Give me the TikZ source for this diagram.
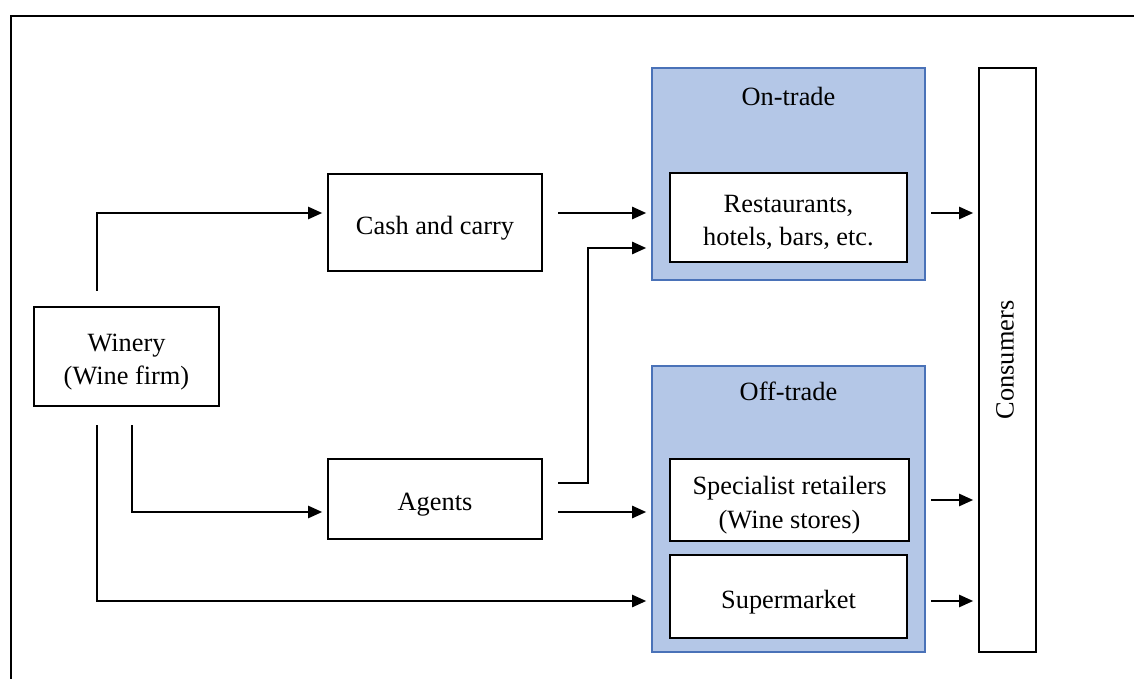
\documentclass[tikz,border=0pt]{standalone}
\usepackage{fontspec}
\setmainfont{Liberation Serif}
\usetikzlibrary{arrows.meta,calc}
\definecolor{tradefill}{HTML}{B4C7E7}
\definecolor{tradeedge}{HTML}{4A72B8}
\newcommand\boxtext[1]{\raisebox{-0.1cm}[\height][\depth]{\begin{tabular}{@{}c@{}}#1\end{tabular}}}
\begin{document}
\begin{tikzpicture}[x=0.02cm,y=-0.02cm,
  box/.style={draw=black,line width=1pt,fill=white,inner sep=0pt,
    font=\fontsize{15}{19}\selectfont},
  trade/.style={draw=tradeedge,line width=1pt,fill=tradefill,inner sep=0pt},
  lbl/.style={font=\fontsize{15}{19}\selectfont,inner sep=0pt},
  arr/.style={line width=1pt,-{Triangle[length=8pt,width=7pt]},shorten >=0.1cm},
  ln/.style={line width=1pt}]
\useasboundingbox (0,0) rectangle (1134,679);
% outer frame (cropped)
\draw[line width=1.1pt] (11,679) -- (11,16) -- (1134,16);

% nodes
\node[box,minimum width=3.7cm,minimum height=1.98cm] (win) at (126.5,356.5) {\boxtext{Winery\\(Wine firm)}};
\node[box,minimum width=4.28cm,minimum height=1.94cm] (cash) at (435,222.5) {\boxtext{Cash and carry}};
\node[box,minimum width=4.28cm,minimum height=1.6cm] (agents) at (435,499) {\boxtext{Agents}};

\node[trade,minimum width=5.46cm,minimum height=4.24cm] (on) at (788.5,174) {};
\node[lbl] (onl) at (788.5,96) {On-trade};
\node[box,minimum width=4.74cm,minimum height=1.78cm] (rest) at (788.5,217.5) {\boxtext{Restaurants,\\hotels, bars, etc.}};

\node[trade,minimum width=5.46cm,minimum height=5.72cm] (off) at (788.5,509) {};
\node[lbl] (offl) at (788.5,391) {Off-trade};
\node[box,minimum width=4.78cm,minimum height=1.64cm] (spec) at (789.5,500) {\boxtext{Specialist retailers\\(Wine stores)}};
\node[box,minimum width=4.74cm,minimum height=1.66cm] (super) at (788.5,596.5) {\boxtext{Supermarket}};

\node[box,minimum width=1.14cm,minimum height=11.68cm] (cons) at (1007.5,360) {};
\node[lbl,rotate=90] (consl) at (1005,360) {Consumers};

% connector start points
\coordinate (w1) at (97,291);
\coordinate (w2) at (132,425);
\coordinate (w3) at (97,425);
\coordinate (c1) at (558,213);
\coordinate (a1) at (558,483);
\coordinate (a2) at (558,512);
\coordinate (r1) at (931,213);
\coordinate (s1) at (931,500);
\coordinate (m1) at (931,601);

% connectors
\draw[arr] (w1) |- ($(cash.west)+(0,-9.5)$);
\draw[arr] (w2) |- ($(agents.west)+(0,13)$);
\draw[arr] (w3) |- (on.west |- 0,601);
\draw[arr] (c1) -- (on.west |- c1);
\draw[arr] (a1) -- (588,483) |- (on.west |- 0,248);
\draw[arr] (a2) -- (off.west |- a2);
\draw[arr] (r1) -- (cons.west |- r1);
\draw[arr] (s1) -- (cons.west |- s1);
\draw[arr] (m1) -- (cons.west |- m1);
\end{tikzpicture}
\end{document}
